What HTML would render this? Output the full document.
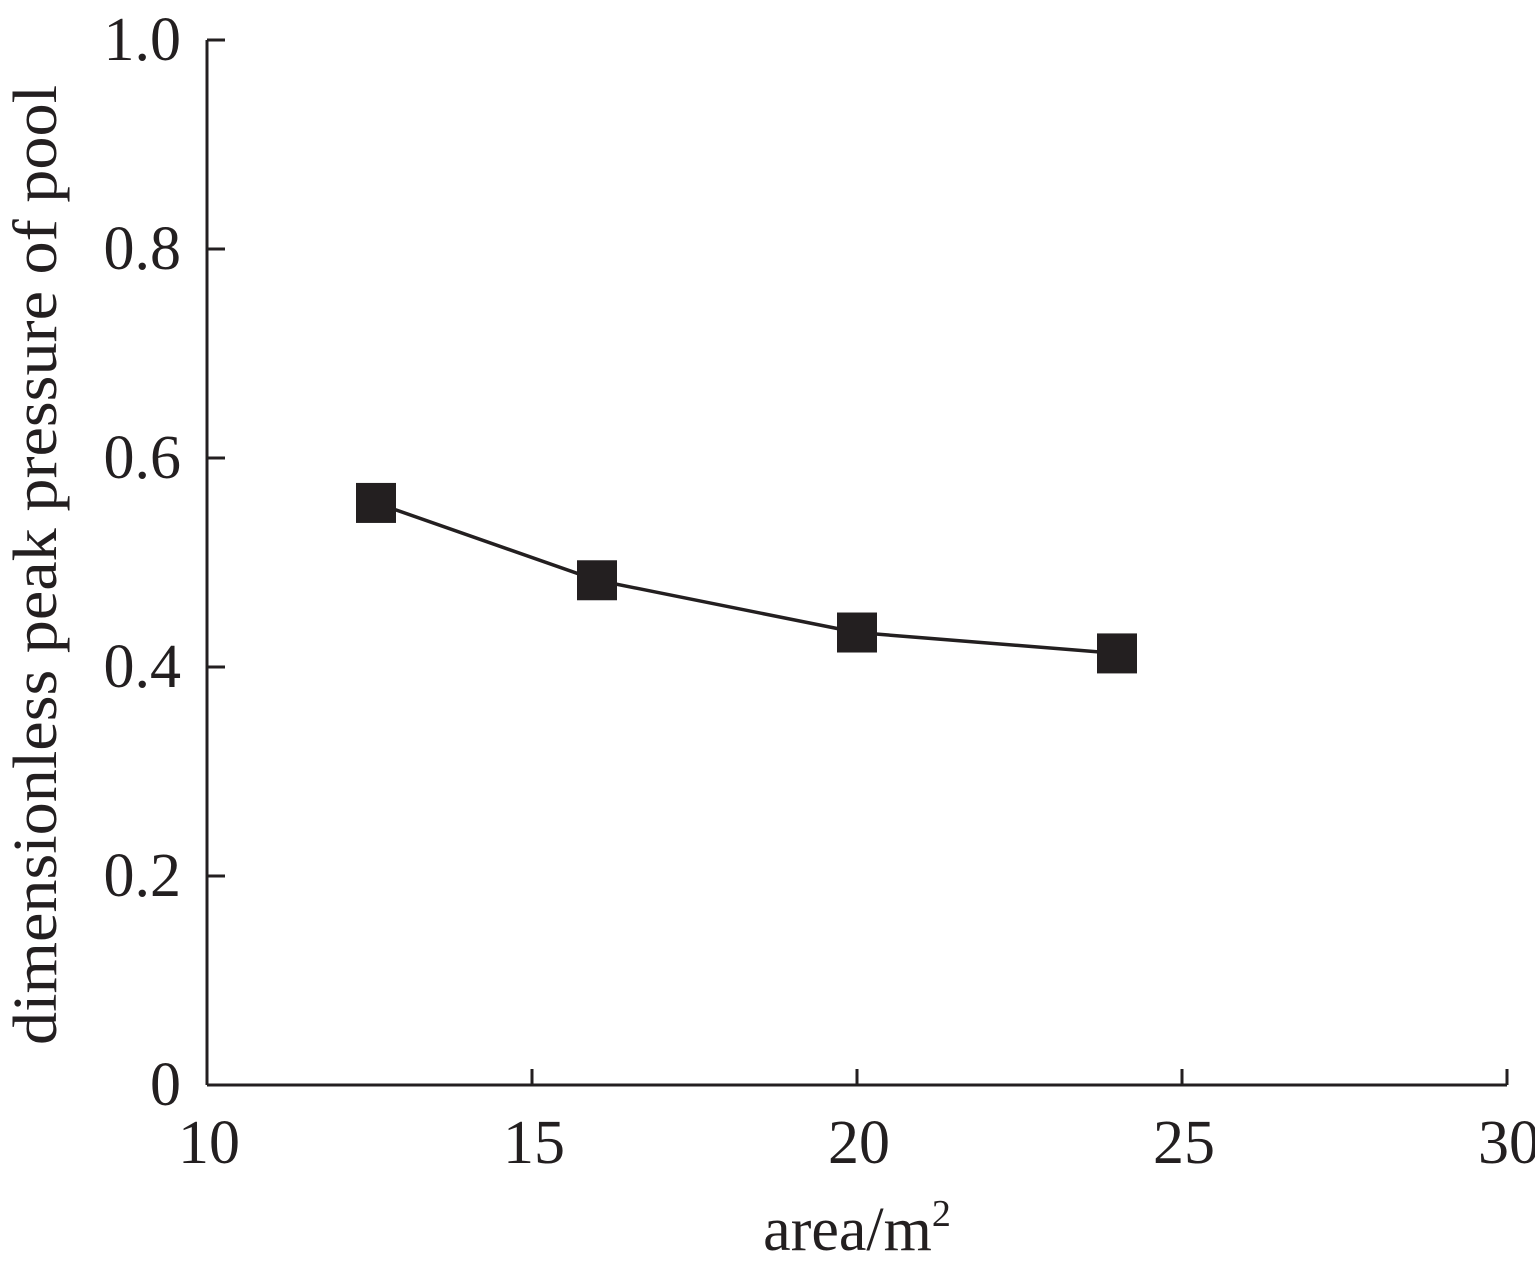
<!DOCTYPE html>
<html><head><meta charset="utf-8"><style>
html,body{margin:0;padding:0;background:#fff;}
svg{display:block;font-family:"Liberation Serif",serif;}
</style></head><body>
<svg id="chart" width="1535" height="1269">
<g id="axes"></g><g id="series"></g>
</svg>
<script>
const xTicks=[10,15,20,25,30];
const yTicks=[0,0.2,0.4,0.6,0.8,1.0];
const yTickLabels=["0","0.2","0.4","0.6","0.8","1.0"];
const areaValues=[12.6,16,20,24];
const pressureValues=[0.557,0.483,0.433,0.413];
const NS="http://www.w3.org/2000/svg";
const X0=207,X1=1507,Y0=1085,Y1=40;
const sx=v=>X0+(v-10)/20*(X1-X0);
const sy=v=>Y0-v/1.0*(Y0-Y1);
function mk(tag,attrs,parent){const e=document.createElementNS(NS,tag);for(const k in attrs)e.setAttribute(k,attrs[k]);parent.appendChild(e);return e;}
const ax=document.getElementById('axes'),se=document.getElementById('series');
let l=mk('line',{x1:X0,y1:Y0,x2:X1,y2:Y0,stroke:'#231f20','stroke-width':3},ax);


l=mk('line',{x1:X0,y1:Y0,x2:X0,y2:Y1,stroke:'#231f20','stroke-width':3},ax);


xTicks.forEach(v=>{
 const t=mk('line',{x1:sx(v),y1:Y0,x2:sx(v),y2:Y0-16,stroke:'#231f20','stroke-width':3},ax);
 
 
 const tx=mk('text',{x:sx(v)+2,y:1163,'text-anchor':'middle','font-size':62,fill:'#231f20'},ax);
 tx.textContent=String(v);
 
 
});
yTicks.forEach((v,i)=>{
 const t=mk('line',{x1:X0,y1:sy(v),x2:X0+18,y2:sy(v),stroke:'#231f20','stroke-width':3},ax);
 
 
 const tx=mk('text',{x:181,y:sy(v)+20,'text-anchor':'end','font-size':62,fill:'#231f20'},ax);
 tx.textContent=yTickLabels[i];
 
 
});
let xt=mk('text',{x:857,y:1250,'text-anchor':'middle','font-size':62,fill:'#231f20'},ax);
xt.innerHTML='area/m<tspan font-size="38" dy="-24">2</tspan>';


let yt=mk('text',{x:0,y:0,'text-anchor':'middle','font-size':62,fill:'#231f20',textLength:960,lengthAdjust:'spacingAndGlyphs',transform:'translate(56,565) rotate(-90)'},ax);
yt.textContent='dimensionless peak pressure of pool';


const pts=areaValues.map((a,i)=>sx(a)+','+sy(pressureValues[i])).join(' ');
const pl=mk('polyline',{points:pts,fill:'none',stroke:'#231f20','stroke-width':3.5},se);


areaValues.forEach((a,i)=>{
 const r=mk('rect',{x:sx(a)-20,y:sy(pressureValues[i])-20,width:40,height:40,fill:'#231f20'},se);
 
 
});
</script>
</body></html>
